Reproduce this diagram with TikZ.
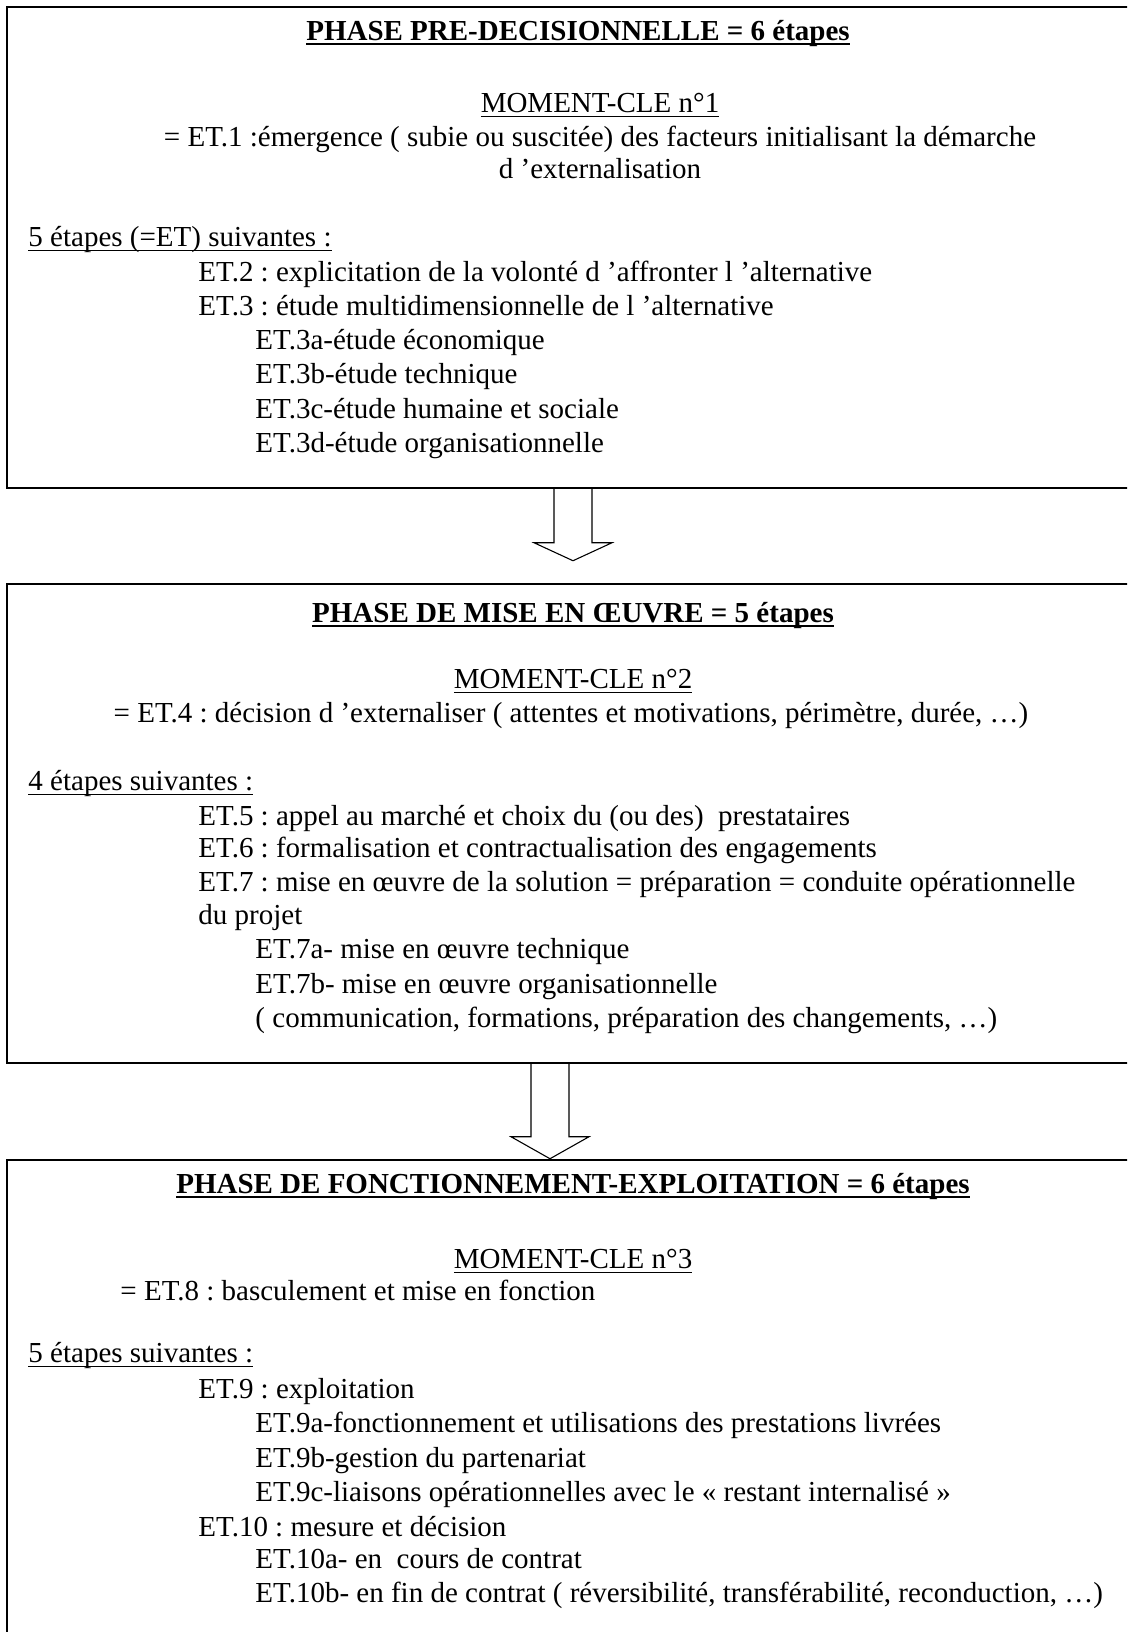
\documentclass[tikz,border=0pt]{standalone}
\usepackage{fontspec}
\setmainfont{Liberation Serif}
\usetikzlibrary{fit}
\frenchspacing
\newsavebox\ulbox
\newcommand\ulin[2][0.45pt]{\sbox\ulbox{#2}\rlap{\rule[-1.9pt]{\wd\ulbox}{#1}}\usebox\ulbox}
\begin{document}
\begin{tikzpicture}[x=0.41379pt, y=-0.41379pt,
    phasebox/.style={draw, line width=0.6pt, inner sep=0pt},
    hollow/.style={draw, line width=0.45pt, line join=miter},
    txt/.style={anchor=base west, inner sep=0pt, font=\fontsize{12}{14}\selectfont},
    ctxt/.style={txt, anchor=base},
    ttl/.style={ctxt, font=\fontsize{12}{14}\selectfont\bfseries}]
    \clip (0,0) rectangle (1127,1632);
    \fill[white] (0,0) rectangle (1127,1632);

    % the three phases
    \node[phasebox, fit={(7,7) (1160,488)}] (pre) {};
    \node[phasebox, fit={(7,584) (1160,1063)}] (mise) {};
    \node[phasebox, fit={(7,1160) (1160,1700)}] (fonc) {};

    % hollow arrows between phases
    \coordinate (x1) at (573,0);
    \coordinate (x2) at (550,0);
    \draw[hollow] (pre.south -| x1) ++(-19,0) -- ++(0,54) -- ++(-20,0) -- ++(39,18) -- ++(39,-18) -- ++(-20,0) -- ++(0,-54);
    \draw[hollow] (mise.south -| x2) ++(-19,0) -- ++(0,73) -- ++(-20,0) -- ++(39,22) -- ++(39,-22) -- ++(-20,0) -- ++(0,-73);

    % phase 1
    \node[ttl] (pre-t) at (578,40) {\ulin[0.8pt]{PHASE PRE-DECISIONNELLE = 6 étapes}};
    \node[ctxt] (pre-m) at (600,112) {\ulin{MOMENT-CLE n°1}};
    \node[ctxt] (et1) at (600,146) {= ET.1 :émergence ( subie ou suscitée) des facteurs initialisant la démarche};
    \node[ctxt] (et1b) at (600,178) {d ’externalisation};
    \node[txt] (pre-s) at (28,246) {\ulin{5 étapes (=ET) suivantes :}};
    \node[txt] (et2) at (198,281) {ET.2 : explicitation de la volonté d ’affronter l ’alternative};
    \node[txt] (et3) at (198,315) {ET.3 : étude multidimensionnelle de l ’alternative};
    \node[txt] (et3a) at (255,349) {ET.3a-étude économique};
    \node[txt] (et3b) at (255,383) {ET.3b-étude technique};
    \node[txt] (et3c) at (255,418) {ET.3c-étude humaine et sociale};
    \node[txt] (et3d) at (255,452) {ET.3d-étude organisationnelle};

    % phase 2
    \node[ttl] (mise-t) at (573,622) {\ulin[0.8pt]{PHASE DE MISE EN ŒUVRE = 5 étapes}};
    \node[ctxt] (mise-m) at (573,688) {\ulin{MOMENT-CLE n°2}};
    \node[ctxt] (et4) at (571,722) {= ET.4 : décision d ’externaliser ( attentes et motivations, périmètre, durée, …)};
    \node[txt] (mise-s) at (28,790) {\ulin{4 étapes suivantes :}};
    \node[txt] (et5) at (198,825) {ET.5 : appel au marché et choix du (ou des)\ \ prestataires};
    \node[txt] (et6) at (198,857) {ET.6 : formalisation et contractualisation des engagements};
    \node[txt] (et7) at (198,891) {ET.7 : mise en œuvre de la solution = préparation = conduite opérationnelle};
    \node[txt] (et7p) at (198,924) {du projet};
    \node[txt] (et7a) at (255,958) {ET.7a- mise en œuvre technique};
    \node[txt] (et7b) at (255,993) {ET.7b- mise en œuvre organisationnelle};
    \node[txt] (et7c) at (255,1027) {( communication, formations, préparation des changements, …)};

    % phase 3
    \node[ttl] (fonc-t) at (573,1193) {\ulin[0.8pt]{PHASE DE FONCTIONNEMENT-EXPLOITATION = 6 étapes}};
    \node[ctxt] (fonc-m) at (573,1268) {\ulin{MOMENT-CLE n°3}};
    \node[txt] (et8) at (120,1300) {= ET.8 : basculement et mise en fonction};
    \node[txt] (fonc-s) at (28,1362) {\ulin{5 étapes suivantes :}};
    \node[txt] (et9) at (198,1398) {ET.9 : exploitation};
    \node[txt] (et9a) at (255,1432) {ET.9a-fonctionnement et utilisations des prestations livrées};
    \node[txt] (et9b) at (255,1467) {ET.9b-gestion du partenariat};
    \node[txt] (et9c) at (255,1501) {ET.9c-liaisons opérationnelles avec le « restant internalisé »};
    \node[txt] (et10) at (198,1536) {ET.10 : mesure et décision};
    \node[txt] (et10a) at (255,1568) {ET.10a- en\ \ cours de contrat};
    \node[txt] (et10b) at (255,1602) {ET.10b- en fin de contrat ( réversibilité, transférabilité, reconduction, …)};
\end{tikzpicture}
\end{document}
